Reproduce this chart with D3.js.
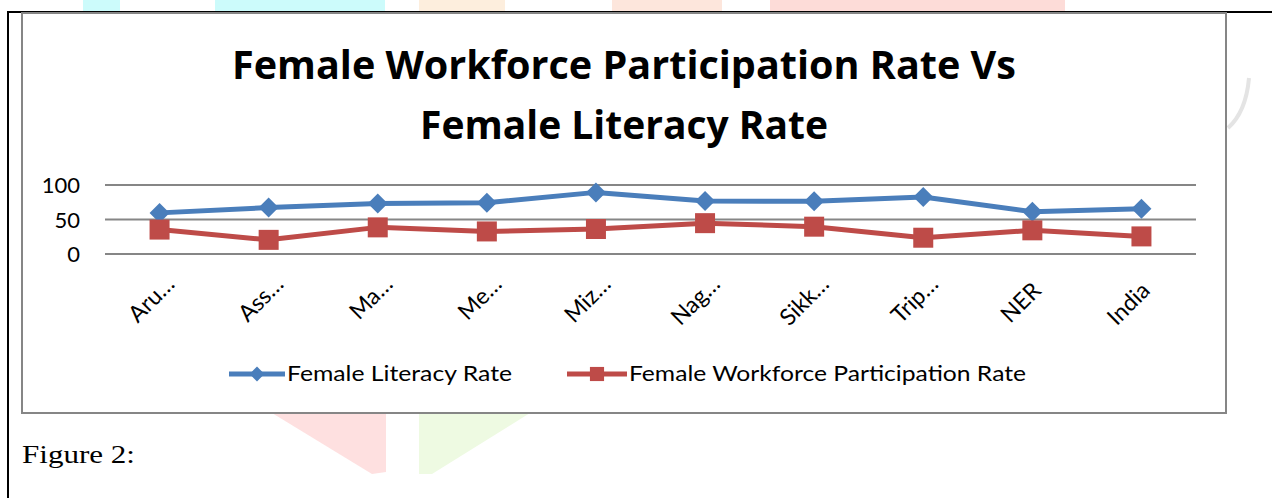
<!DOCTYPE html>
<html>
<head>
<meta charset="utf-8">
<script src="https://cdn.jsdelivr.net/npm/d3@7"></script>
<style>
  html, body { margin: 0; padding: 0; background: #fff; }
  svg { display: block; }
</style>
</head>
<body>
<svg id="chart" width="1272" height="498"></svg>
<script>
// ---- data ----
const categories = ["Aru…", "Ass…", "Ma…", "Me…", "Miz…", "Nag…", "Sikk…", "Trip…", "NER", "India"];
const literacy = [59.6, 67.3, 73.2, 74.4, 89.3, 76.7, 76.4, 82.7, 61.3, 65.5];
const workforce = [35.4, 20.5, 38.6, 32.7, 36.2, 44.7, 39.6, 23.6, 34.3, 25.5];
const yTicks = [0, 50, 100];
const seriesNames = ["Female Literacy Rate", "Female Workforce Participation Rate"];
const titleLines = ["Female Workforce Participation Rate Vs", "Female Literacy Rate"];
const caption = "Figure 2:";

const svg = d3.select("#chart");
const font = "Lato, 'Open Sans', sans-serif";
const blue = "#4A7EBB", red = "#BE4B48", grid = "#868686";

// faint watermark shapes behind the document
const wm = svg.append("g");
[[83, 0, 37, 12, "#ccfbfb"], [215, 0, 170, 12, "#ccfbfb"], [419, 0, 86, 12, "#fdeedd"],
 [612, 0, 110, 12, "#fde6dc"], [770, 0, 295, 12, "#fddcd8"]].forEach(r =>
  wm.append("rect").attr("x", r[0]).attr("y", r[1]).attr("width", r[2]).attr("height", r[3]).attr("fill", r[4]));
wm.append("polygon").attr("points", "272,413 386,413 386,472 372,474").attr("fill", "#fee0e0");
wm.append("polygon").attr("points", "419,413 530,413 432,474 419,474").attr("fill", "#eefae2");
wm.append("path").attr("d", "M1228,128 Q1246,112 1249,78").attr("fill", "none")
  .attr("stroke", "#e4e4e4").attr("stroke-width", 4);

// document cell border
svg.append("path").attr("d", "M8,498 V12 H1272").attr("fill", "none")
  .attr("stroke", "#000").attr("stroke-width", 2);

// chart frame
svg.append("rect").attr("x", 22).attr("y", 13).attr("width", 1204).attr("height", 400)
  .attr("fill", "#fff").attr("stroke", grid).attr("stroke-width", 2);

// title
titleLines.forEach((t, i) => {
  svg.append("text").attr("x", 624).attr("y", 79 + i * 60)
    .attr("text-anchor", "middle")
    .attr("font-family", "'Open Sans', sans-serif").attr("font-weight", "bold")
    .attr("font-size", 40)
    .attr("textLength", i === 0 ? 784 : 408).attr("lengthAdjust", "spacingAndGlyphs")
    .text(t);
});

// scales
const x = d3.scaleBand().domain(categories).range([105, 1196]);
const y = d3.scaleLinear().domain([0, 100]).range([254, 185]);
const cx = d => x(d) + x.bandwidth() / 2;

// gridlines
svg.append("g").selectAll("line").data(yTicks).join("line")
  .attr("x1", 105).attr("x2", 1196)
  .attr("y1", d => y(d)).attr("y2", d => y(d))
  .attr("stroke", grid).attr("stroke-width", 2);

// y axis labels
const yAxis = svg.append("g").attr("transform", "translate(80,0)")
  .call(d3.axisLeft(y).tickValues(yTicks).tickSize(0).tickPadding(0));
yAxis.select(".domain").remove();
yAxis.selectAll("text").attr("font-family", font).attr("font-size", 22).attr("fill", "#000").attr("dy", "0.35em");

// x axis labels
const xAxis = svg.append("g").attr("transform", "translate(0,254)")
  .call(d3.axisBottom(x).tickSize(0).tickPadding(0));
xAxis.select(".domain").remove();
xAxis.selectAll(".tick text")
  .attr("font-family", font).attr("font-size", 23).attr("fill", "#000")
  .attr("text-anchor", "end").attr("dy", 0).attr("y", 0)
  .attr("dx", d => d.endsWith("…") ? 9 : 0)
  .attr("transform", "translate(10,38) rotate(-45)");

// lines
const line = d3.line().x((d, i) => cx(categories[i])).y(d => y(d));
svg.append("path").datum(literacy).attr("d", line).attr("fill", "none")
  .attr("stroke", blue).attr("stroke-width", 5).attr("stroke-linejoin", "round");
svg.append("path").datum(workforce).attr("d", line).attr("fill", "none")
  .attr("stroke", red).attr("stroke-width", 5).attr("stroke-linejoin", "round");

const diamond = d3.symbol().type(d3.symbolSquare).size(200);
const square = d3.symbol().type(d3.symbolSquare).size(400);
svg.append("g").selectAll("path").data(literacy).join("path")
  .attr("d", diamond)
  .attr("transform", (d, i) => `translate(${cx(categories[i])},${y(d)}) rotate(45)`)
  .attr("fill", blue);
svg.append("g").selectAll("path").data(workforce).join("path")
  .attr("d", square)
  .attr("transform", (d, i) => `translate(${cx(categories[i])},${y(d)})`)
  .attr("fill", red);

// legend
const legend = [
  {name: seriesNames[0], color: blue, x1: 229, x2: 285, tx: 287, tw: 225, sym: d3.symbol().type(d3.symbolSquare).size(110), rot: 45},
  {name: seriesNames[1], color: red, x1: 567, x2: 627, tx: 629, tw: 397, sym: d3.symbol().type(d3.symbolSquare).size(200), rot: 0}
];
const ly = 374;
legend.forEach(l => {
  svg.append("line").attr("x1", l.x1).attr("x2", l.x2).attr("y1", ly).attr("y2", ly)
    .attr("stroke", l.color).attr("stroke-width", 5);
  svg.append("path").attr("d", l.sym)
    .attr("transform", `translate(${(l.x1 + l.x2) / 2},${ly}) rotate(${l.rot})`)
    .attr("fill", l.color);
  svg.append("text").attr("x", l.tx).attr("y", ly).attr("dy", "0.35em")
    .attr("font-family", font).attr("font-size", 21)
    .attr("textLength", l.tw).attr("lengthAdjust", "spacingAndGlyphs")
    .text(l.name);
});

// caption
svg.append("text").attr("x", 22).attr("y", 463)
  .attr("font-family", "'Liberation Serif', 'Times New Roman', serif").attr("font-size", 26)
  .attr("textLength", 113).attr("lengthAdjust", "spacingAndGlyphs")
  .text(caption);
</script>
</body>
</html>
